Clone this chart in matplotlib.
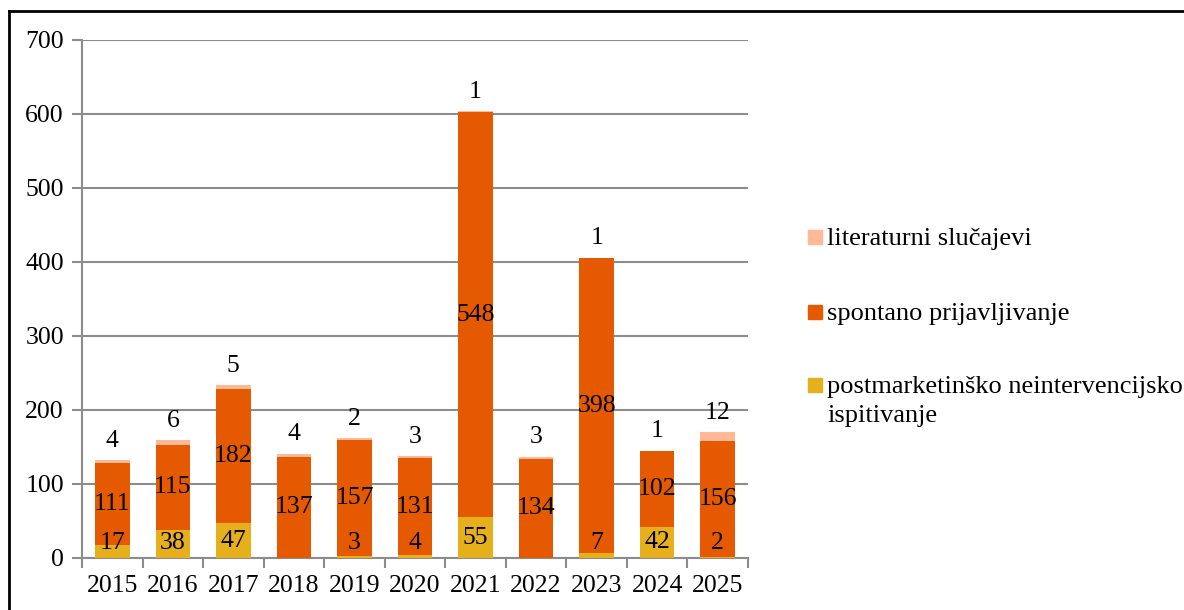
import numpy as np
import matplotlib
matplotlib.use('Agg')
import matplotlib.pyplot as plt
from matplotlib.patches import Rectangle
from matplotlib.lines import Line2D

plt.rcParams['font.family'] = ['Liberation Serif', 'DejaVu Serif']

years = ['2015', '2016', '2017', '2018', '2019', '2020', '2021', '2022', '2023', '2024', '2025']
postmarketinsko = [17, 38, 47, 0, 3, 4, 55, 0, 7, 42, 2]
spontano = [111, 115, 182, 137, 157, 131, 548, 134, 398, 102, 156]
literaturni = [4, 6, 5, 4, 2, 3, 1, 3, 1, 1, 12]
series_names = ['literaturni slučajevi', 'spontano prijavljivanje',
                'postmarketinško neintervencijsko\nispitivanje']

c_post = '#E5B01C'
c_spon = '#E55A00'
c_lit = '#FFB996'
grey = '#8C8C8C'

W, H = 1184, 610
fig = plt.figure(figsize=(W / 100, H / 100), dpi=100)
ax = fig.add_axes([82 / W, 1 - 558 / H, 666 / W, 518 / H])

x = np.arange(len(years))
post = np.array(postmarketinsko)
spon = np.array(spontano)
lit = np.array(literaturni)
w = 0.57

ax.bar(x, post, w, color=c_post, zorder=3)
ax.bar(x, spon, w, bottom=post, color=c_spon, zorder=3)
ax.bar(x, lit, w, bottom=post + spon, color=c_lit, zorder=3)

fs = 18.5
for i in range(len(years)):
    if post[i] > 0:
        ax.text(x[i], max(post[i] / 2, 20), str(post[i]), ha='center', va='center', fontsize=fs, zorder=4)
    ax.text(x[i], post[i] + spon[i] / 2, str(spon[i]), ha='center', va='center', fontsize=fs, zorder=4)
    ax.annotate(str(lit[i]), (x[i], post[i] + spon[i] + lit[i]), xytext=(0, 6),
                textcoords='offset points', ha='center', va='bottom', fontsize=fs, zorder=4)

ax.set_xlim(-0.5, len(years) - 0.5)
ax.set_ylim(0, 700)
ax.set_yticks(range(0, 701, 100))
ax.yaxis.grid(True, color=grey, linewidth=1.5, zorder=0)
ax.set_axisbelow(True)

ax.set_xticks(x)
ax.set_xticklabels(years, fontsize=fs)
ax.set_xticks(np.arange(-0.5, len(years), 1), minor=True)
ax.tick_params(axis='x', which='major', length=0, pad=12)
ax.tick_params(axis='x', which='minor', length=7, width=1.5, color=grey)
ax.tick_params(axis='y', length=7, width=1.5, color=grey, labelsize=fs, pad=6)

for s in ['top', 'right']:
    ax.spines[s].set_visible(False)
for s in ['left', 'bottom']:
    ax.spines[s].set_color(grey)
    ax.spines[s].set_linewidth(1.5)

# legend, drawn by hand so the marker sits on the first line of a wrapped label
leg_colors = [c_lit, c_spon, c_post]
leg_y = [237, 312, 385]
for name, col, yy in zip(series_names, leg_colors, leg_y):
    fig.add_artist(Rectangle((808 / W, 1 - (yy + 7) / H), 14 / W, 14 / H,
                             color=col, transform=fig.transFigure))
    fig.text(827 / W, 1 - (yy - 9) / H, name, ha='left', va='top', fontsize=19,
             linespacing=1.4)

# figure border
fig.add_artist(Line2D([8.5 / W, 8.5 / W], [0, 1 - 10.5 / H], color='black', lw=2, transform=fig.transFigure))
fig.add_artist(Line2D([8.5 / W, 1183 / W], [1 - 10.5 / H, 1 - 10.5 / H], color='black', lw=2, transform=fig.transFigure))

fig.savefig('out.png', dpi=100)
